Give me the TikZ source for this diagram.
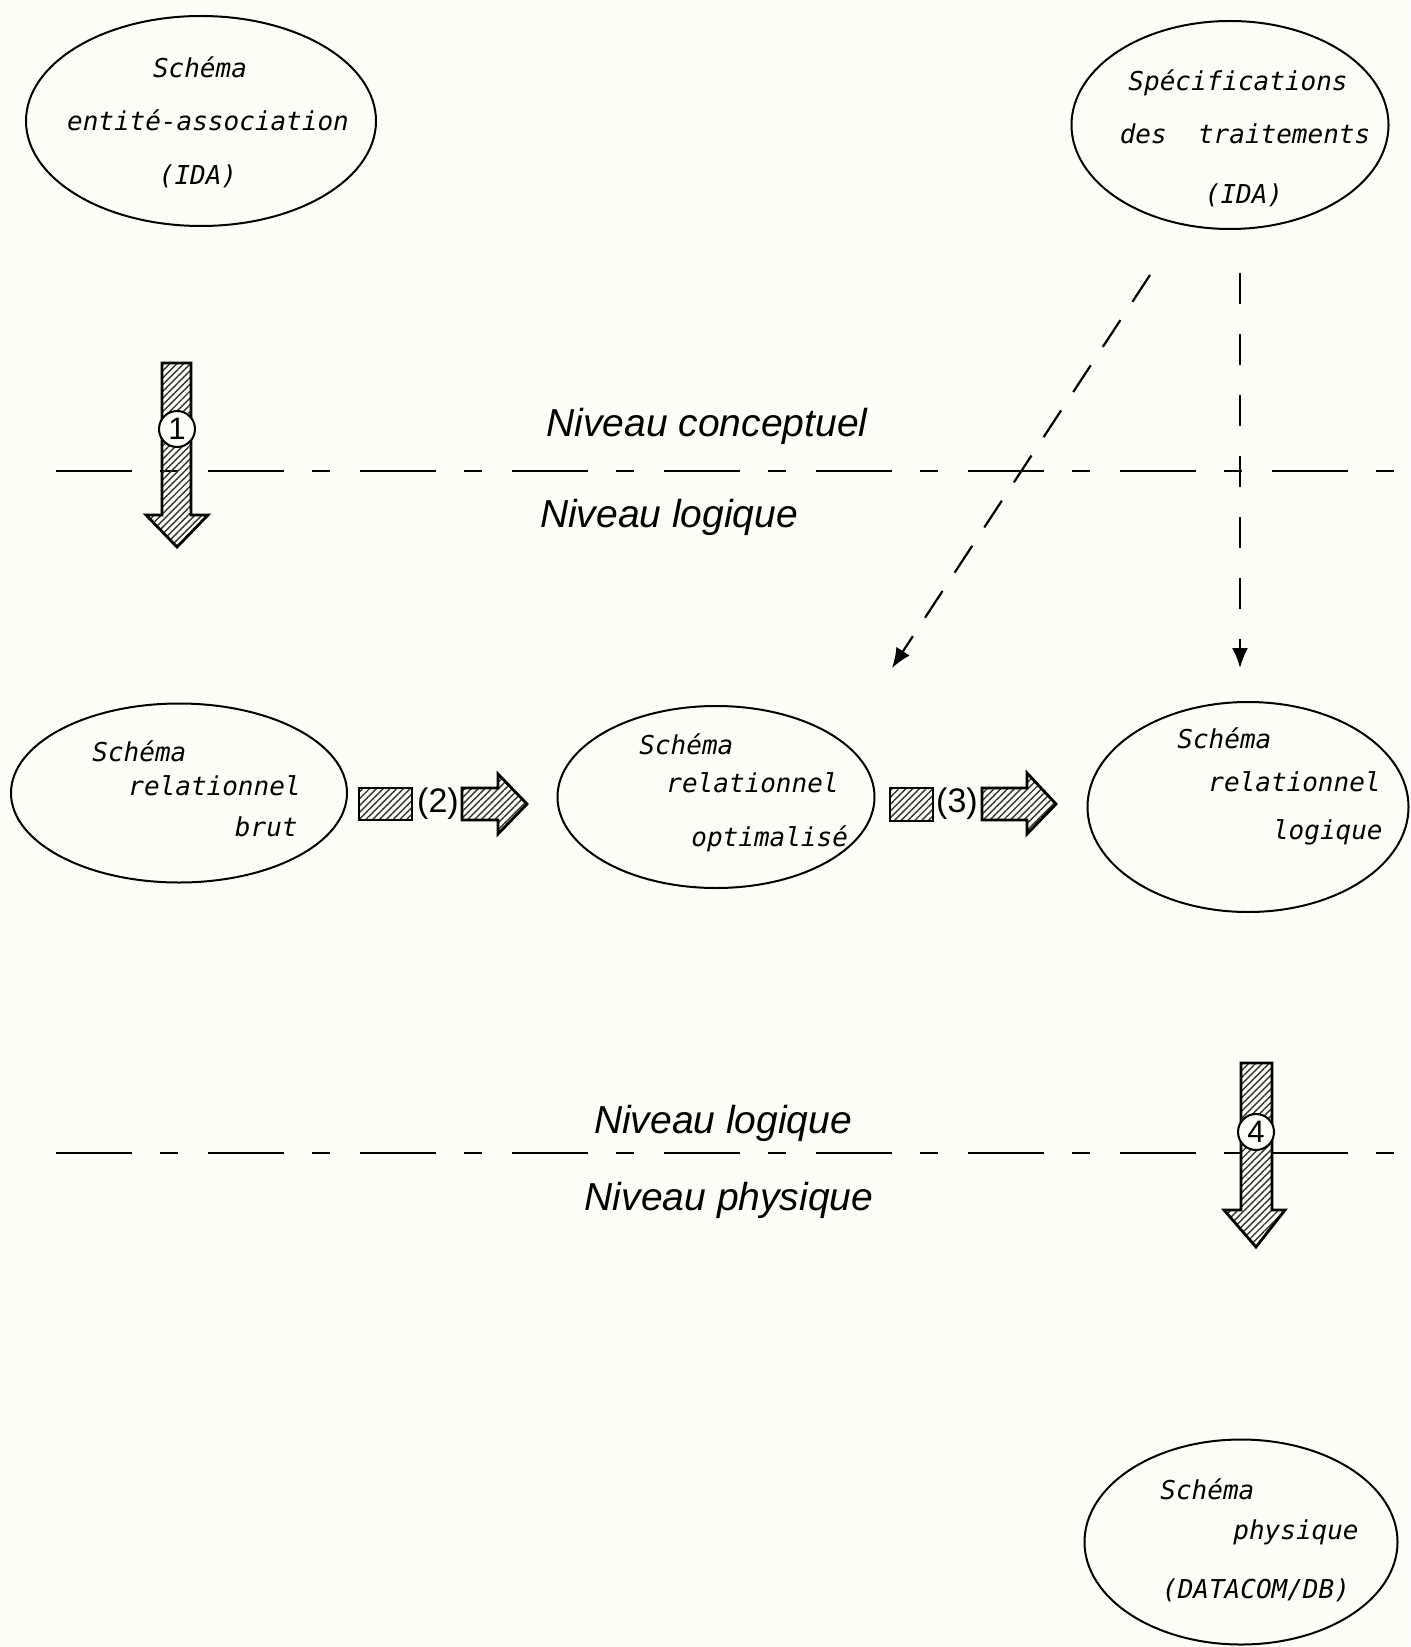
\documentclass[tikz,border=0pt]{standalone}
\usepackage{fontspec}
\setsansfont{Liberation Sans}
\newfontfamily\idafont{DejaVu Sans Mono}
\usetikzlibrary{shapes.geometric, patterns.meta, arrows.meta, positioning}

\definecolor{paper}{RGB}{253,253,248}

\tikzset{
  schema/.style={draw, ellipse, line width=1pt, inner sep=0pt},
  ttlbl/.style={font=\fontsize{13}{16}\selectfont\idafont\itshape, inner sep=0pt, text height=0.73em, text depth=0pt},
  niveau/.style={font=\fontsize{19.5}{23}\selectfont\sffamily\itshape, inner sep=0pt, text height=0.716em, text depth=0pt},
  hatch/.style={draw, line width=1.4pt, pattern={Lines[angle=45, distance=2.4pt, line width=0.7pt]}, pattern color=black!80},
  numlbl/.style={font=\fontsize{17}{20}\selectfont\sffamily, inner sep=0pt},
  numcircle/.style={draw, line width=1pt, circle, fill=paper, minimum size=18pt, inner sep=0pt, font=\fontsize{15.5}{17}\selectfont\sffamily},
  niveausep/.style={line width=1.3pt, dash pattern=on 38pt off 14pt on 9pt off 15pt},
  flux/.style={line width=1.1pt, -{Latex[length=10pt, width=8pt]}}
}

\begin{document}
\begin{tikzpicture}[x=0.5pt, y=-0.5pt]
  \fill[paper] (0,0) rectangle (1410,1647);
  \useasboundingbox (0,0) rectangle (1410,1647);

  % niveau conceptuel
  \node[schema, minimum width=175pt, minimum height=105pt] (ea) at (201,121) {};
  \node[ttlbl] (ea-1) at (200,70) {Schéma};
  \node[ttlbl] (ea-2) at (208,123) {entité-association};
  \node[ttlbl] (ea-3) at (198,177) {(IDA)};

  \node[schema, minimum width=158.5pt, minimum height=104pt] (spec) at (1230,125) {};
  \node[ttlbl] (spec-1) at (1238,83) {Spécifications};
  \node[ttlbl] (spec-2) at (1245,136) {des~~traitements};
  \node[ttlbl] (spec-3) at (1244,196) {(IDA)};

  % niveau logique
  \node[schema, minimum width=168pt, minimum height=89.5pt] (brut) at (179,793) {};
  \node[ttlbl, anchor=west] (brut-1) at (92,754) {Schéma};
  \node[ttlbl, anchor=west] (brut-2) at (128,788) {relationnel};
  \node[ttlbl, anchor=east] (brut-3) at (298,829) {brut};

  \node[schema, minimum width=158.5pt, minimum height=91pt] (opt) at (716,797) {};
  \node[ttlbl, anchor=west] (opt-1) at (639,747) {Schéma};
  \node[ttlbl, anchor=west] (opt-2) at (666,785) {relationnel};
  \node[ttlbl, anchor=west] (opt-3) at (691,839) {optimalisé};

  \node[schema, minimum width=160.5pt, minimum height=105pt] (log) at (1248,807) {};
  \node[ttlbl, anchor=west] (log-1) at (1177,741) {Schéma};
  \node[ttlbl, anchor=west] (log-2) at (1208,784) {relationnel};
  \node[ttlbl, anchor=east] (log-3) at (1383,832) {logique};

  % niveau physique
  \node[schema, minimum width=156.5pt, minimum height=102.5pt] (phys) at (1241,1542) {};
  \node[ttlbl, anchor=west] (phys-1) at (1160,1492) {Schéma};
  \node[ttlbl, anchor=east] (phys-2) at (1359,1532) {physique};
  \node[ttlbl] (phys-3) at (1256,1591) {(DATACOM/DB)};

  % separations de niveaux
  \coordinate (sep1-w) at (56,471);
  \coordinate (sep1-e) at (1395,471);
  \coordinate (sep2-w) at (56,1153);
  \coordinate (sep2-e) at (1398,1153);
  \draw[niveausep] (sep1-w) -- (sep1-e);
  \draw[niveausep] (sep2-w) -- (sep2-e);
  \node[niveau] (conc) at (707,429) {Niveau conceptuel};
  \node[niveau] (logi) at (669,520) {Niveau logique};
  \node[niveau] (logi2) at (723,1126) {Niveau logique};
  \node[niveau] (phy) at (729,1203) {Niveau physique};

  % traitements
  \coordinate (spec-d) at (1150,275);
  \coordinate (spec-v) at (1240,273);
  \coordinate (opt-in) at (892,668);
  \coordinate (log-in) at (1240,668);
  \draw[flux, dash pattern=on 16pt off 11pt] (spec-d) -- (opt-in);
  \draw[flux, dash pattern=on 15.5pt off 15pt] (spec-v) -- (log-in);

  % (1)
  \filldraw[hatch] (162,363) -- (191,363) -- (191,515) -- (208,515) -- (177,547)
    -- (146,515) -- (162,515) -- cycle;
  \node[numcircle] (n1) at (177,429) {1};

  % (2)
  \filldraw[hatch] (359,788) rectangle (412,820);
  \node[numlbl] (n2) at (438,804) {(2)};
  \filldraw[hatch] (462,788) -- (498,788) -- (498,774) -- (527,804) -- (498,834)
    -- (498,820) -- (462,820) -- cycle;

  % (3)
  \filldraw[hatch] (890,788) rectangle (933,821);
  \node[numlbl] (n3) at (957,804) {(3)};
  \filldraw[hatch] (982,788) -- (1027,788) -- (1027,773) -- (1056,804) -- (1027,834)
    -- (1027,820) -- (982,820) -- cycle;

  % (4)
  \filldraw[hatch] (1241,1063) -- (1272,1063) -- (1272,1210) -- (1285,1210) -- (1256,1247)
    -- (1224,1210) -- (1241,1210) -- cycle;
  \node[numcircle] (n4) at (1256,1132) {4};
\end{tikzpicture}
\end{document}
